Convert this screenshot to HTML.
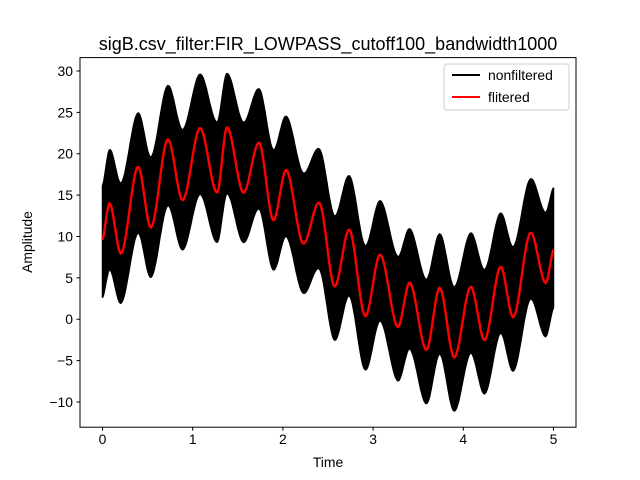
<!DOCTYPE html>
<html><head><meta charset="utf-8"><style>body{margin:0;background:#fff}svg{display:block;font-family:"Liberation Sans","DejaVu Sans",sans-serif}</style></head>
<body>
<svg id="chart" width="640" height="480">
<rect width="640" height="480" fill="#fff"/>
<g id="plot"></g>
<g id="axes"></g>
<text x="328" y="50" font-size="18" text-anchor="middle">sigB.csv_filter:FIR_LOWPASS_cutoff100_bandwidth1000</text>
<text x="328" y="467" font-size="13.9" text-anchor="middle">Time</text>
<text transform="translate(32,242) rotate(-90)" font-size="13.9" text-anchor="middle">Amplitude</text>
<g>
<rect x="444" y="64" width="125" height="46" rx="3" fill="#fff" fill-opacity="0.8" stroke="#ccc"/>
<g><line x1="452" y1="75" x2="480" y2="75" stroke="#000" stroke-width="2"/><text x="488" y="80" font-size="13.9">nonfiltered</text></g>
<g><line x1="452" y1="97" x2="480" y2="97" stroke="#f00" stroke-width="2"/><text x="488" y="102" font-size="13.9">flitered</text></g>
</g>
</svg>
<script>
const times=[0,0.08,0.21,0.39,0.54,0.72,0.89,1.08,1.27,1.38,1.56,1.74,1.89,2.04,2.22,2.41,2.57,2.74,2.91,3.08,3.27,3.41,3.59,3.74,3.9,4.08,4.24,4.41,4.56,4.74,4.91,5];
const filtered=[9.6,14,8,18.4,11.1,21.7,14.4,23.1,15.3,23.2,15.3,21.3,12,18,9.2,14,4,10.8,0.4,7.8,-0.9,4.4,-3.7,3.8,-4.6,3.9,-2.5,6.3,0.3,10.4,4.4,8.4];
const upperOff=[6.5,6.5,8.5,6.5,8.5,6.5,8.5,6.5,8.5,6.5,8.5,6.5,8.5,6.5,8.5,6.5,8.5,6.5,8.5,6.5,8.5,6.5,8.5,6.5,8.5,6.5,8.5,6.5,8.5,6.5,8.5,7.5];
const lowerOff=[7,8,6,8,6,8,6,8,6,8,6,8,6,8,6,8,6.5,8,6.5,8,6.5,8,6.5,8,6.5,8,6.5,8,6.5,8,6.5,7];
const xTicks=[0,1,2,3,4,5];
const yTicks=[-10,-5,0,5,10,15,20,25,30];
const L=80,R=576,T=57.6,B=427.2;
const xs=t=>L+(t+0.25)/5.5*(R-L);
const ys=v=>T+(31.62-v)/(31.62+13.05)*(B-T);
const NS="http://www.w3.org/2000/svg";
function mk(tag,attrs,parent){const e=document.createElementNS(NS,tag);for(const k in attrs)e.setAttribute(k,attrs[k]);parent.appendChild(e);return e;}
function interp(arr,t){let i=0;while(i<times.length-2&&times[i+1]<t)i++;
 const p0=arr[Math.max(i-1,0)],p1=arr[i],p2=arr[i+1],p3=arr[Math.min(i+2,arr.length-1)];
 const u=(t-times[i])/(times[i+1]-times[i]);
 return 0.5*((2*p1)+(-p0+p2)*u+(2*p0-5*p1+4*p2-p3)*u*u+(-p0+3*p1-3*p2+p3)*u*u*u);}
const plot=document.getElementById('plot');
const N=400;let up=[],lo=[],mid=[];
for(let k=0;k<=N;k++){const t=5*k/N;const c=interp(filtered,t);
 up.push(xs(t).toFixed(1)+','+ys(c+interp(upperOff,t)).toFixed(1));lo.push(xs(t).toFixed(1)+','+ys(c-interp(lowerOff,t)).toFixed(1));mid.push(xs(t).toFixed(1)+','+ys(c).toFixed(1));}
const band=mk('polygon',{points:up.concat(lo.reverse()).join(' '),fill:'#000',stroke:'#000','stroke-width':1.5},plot);


const red=mk('polyline',{points:mid.join(' '),fill:'none',stroke:'#f00','stroke-width':2.4},plot);


const ax=document.getElementById('axes');
mk('rect',{x:L,y:T,width:R-L,height:B-T,fill:'none',stroke:'#000','stroke-width':1},ax);
xTicks.forEach(v=>{const x=xs(v);mk('line',{x1:x,y1:B,x2:x,y2:B+3.5,stroke:'#000'},ax);
 const tx=mk('text',{x:x,y:B+17,'font-size':13.9,'text-anchor':'middle'},ax);tx.textContent=v;
 
 });
yTicks.forEach(v=>{const y=ys(v);mk('line',{x1:L-3.5,y1:y,x2:L,y2:y,stroke:'#000'},ax);
 const tx=mk('text',{x:L-7,y:y+5,'font-size':13.9,'text-anchor':'end'},ax);tx.textContent=v<0?'\u2212'+(-v):v;
 
 });
</script>
</body></html>
